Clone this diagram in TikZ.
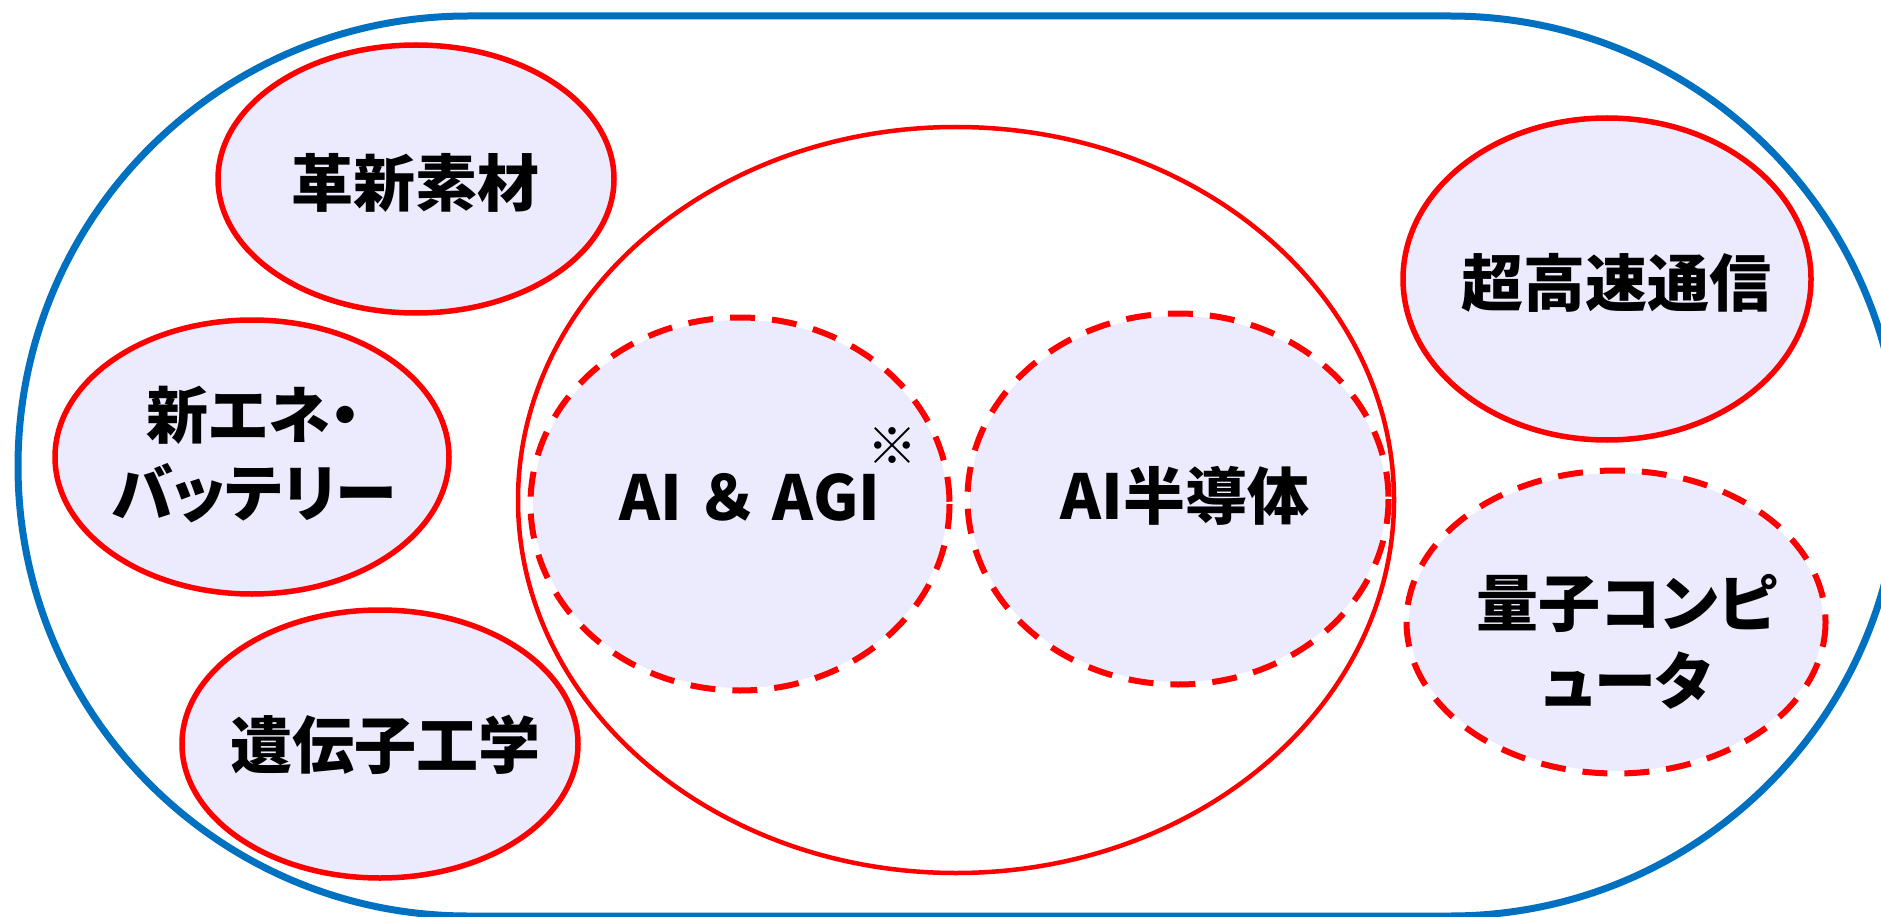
\documentclass[tikz,border=0pt]{standalone}
\usepackage{fontspec}
\newfontfamily\jp{Noto Sans CJK JP}
\newfontfamily\jpp{Noto Sans CJK JP}[RawFeature=+palt]
\definecolor{lav}{RGB}{236,235,253}
\definecolor{bblue}{RGB}{0,112,192}
\definecolor{rred}{RGB}{255,0,0}
\begin{document}
\begin{tikzpicture}[x=1pt,y=-1pt,
  outerline/.style={draw=bblue, line width=7pt, rounded corners=450pt},
  bigell/.style={draw=rred, line width=4.5pt},
  solidell/.style={fill=lav, draw=rred, line width=5.5pt},
  dashfill/.style={fill=lav},
  dashell/.style={draw=rred, line width=6pt, dash pattern=on 25pt off 17pt},
  lbl/.style={font=\jp\bfseries\fontsize{62}{78}\selectfont, inner sep=0pt, align=center, text=black},
  kana/.style={font=\jpp\bfseries\fontsize{62}{78}\selectfont, inner sep=0pt, align=center, text=black},
  notemark/.style={font=\jp\bfseries\fontsize{50}{52}\selectfont, inner sep=0pt, text=black}]
\useasboundingbox (0,0) rectangle (1881,917);
\clip (0,0) rectangle (1881,917);
\fill[white] (0,0) rectangle (1881,917);
% outer blue stadium
\draw[outerline] (18,16) rectangle (1900,916);
% big central ellipse
\draw[bigell] (956,500) ellipse [x radius=438, y radius=373];
% solid small ellipses
\path[solidell] (416,179) ellipse [x radius=198, y radius=134];
\path[solidell] (252,457) ellipse [x radius=197, y radius=137];
\path[solidell] (380,744) ellipse [x radius=198, y radius=134];
\path[solidell] (1607,279) ellipse [x radius=204, y radius=161];
% dashed ellipses
\path[dashfill] (740,504) ellipse [x radius=207, y radius=184];
\path[dashell] (740,504) ellipse [x radius=209.5, y radius=186.5];
\path[dashfill] (1178,499) ellipse [x radius=208, y radius=183];
\path[dashell] (1178,499) ellipse [x radius=210.5, y radius=185.5];
\path[dashfill] (1616,622) ellipse [x radius=207, y radius=149];
\path[dashell] (1616,622) ellipse [x radius=209.5, y radius=151.5];
% labels
\node[lbl] (t1) at (415,183) {革新素材};
\node[kana] (t2) at (254,455) {新エネ・\\バッテリー};
\node[lbl] (t3) at (385,745) {遺伝子工学};
\node[lbl] (t4) at (750,497) {AI ＆ AGI};
\node[notemark] (t5) at (892,446) {※};
\node[lbl] (t6) at (1185,496) {AI半導体};
\node[lbl] (t7) at (1616,283) {超高速通信};
\node[kana] (t8) at (1627,642) {量子コンピ\\ュータ};
\end{tikzpicture}
\end{document}
